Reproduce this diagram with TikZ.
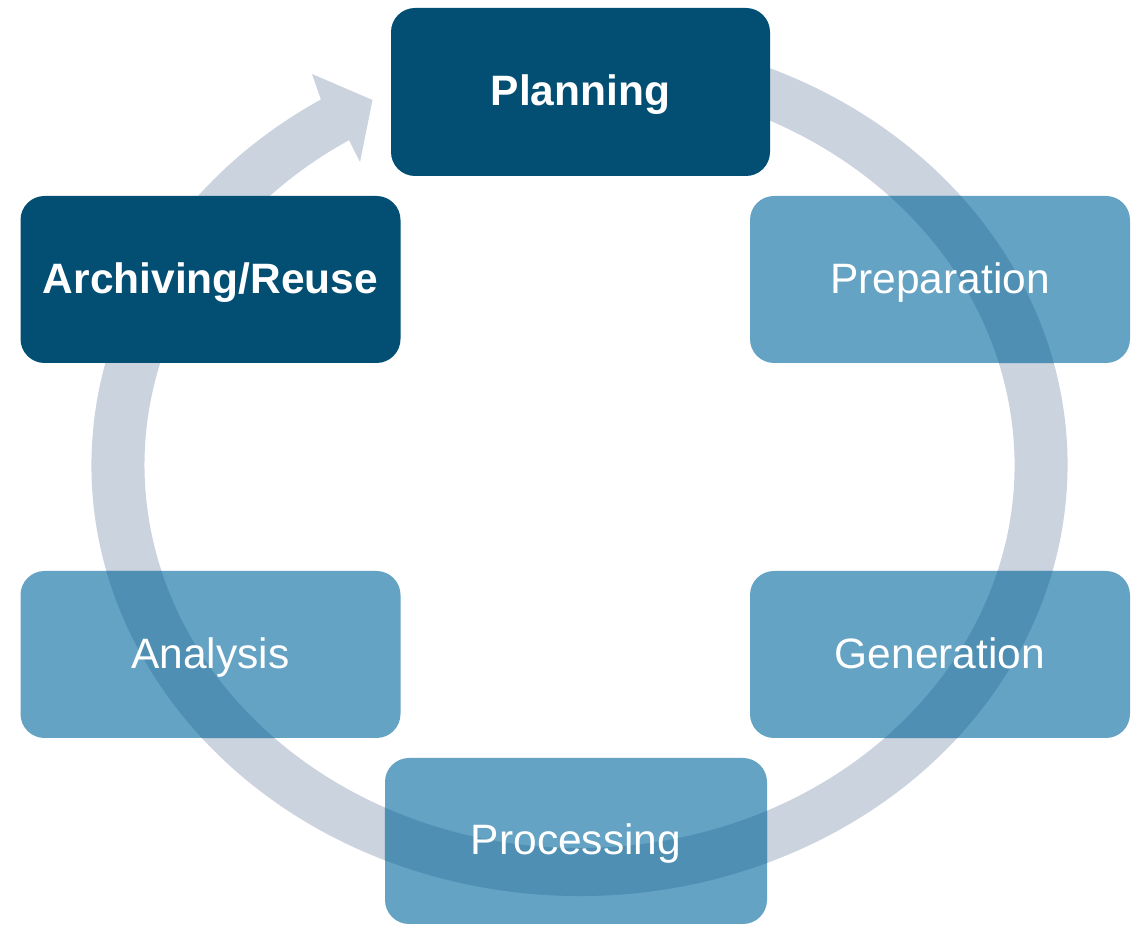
\documentclass[tikz,border=0pt]{standalone}
\usepackage{fontspec}
\setmainfont{Liberation Sans}
\usetikzlibrary{calc}
\definecolor{ringcol}{RGB}{203,211,223}
\definecolor{darkbox}{RGB}{2,79,115}
\definecolor{lightbox}{RGB}{101,163,196}
\definecolor{bandcol}{RGB}{79,143,180}
\newcommand\ringpath{($(C)+(122:488 and 431)$) arc[start angle=122,end angle=460,x radius=488,y radius=431] -- ($(C)+(460:435 and 383)$) arc[start angle=460,end angle=122,x radius=435,y radius=383] -- (ai) -- (at) -- (ao) -- cycle}
\newcommand\bandin[1]{\begin{scope}\clip[rounded corners=24] (#1.south west) rectangle (#1.north east);\fill[bandcol] \ringpath;\end{scope}}
\tikzset{
  stepbox/.style={rectangle, rounded corners=24, inner sep=0pt, minimum width=380, minimum height=167},
  darkstep/.style={stepbox, fill=darkbox},
  lightstep/.style={stepbox, fill=lightbox},
  boxtext/.style={text=white, anchor=base, inner sep=0pt, font=\fontsize{42.5}{50}\selectfont},
  boldtext/.style={boxtext, font=\fontsize{42.5}{50}\selectfont\bfseries},
}
\begin{document}
\begin{tikzpicture}[x=1pt,y=1pt]
\useasboundingbox (0,0) rectangle (1138,925);
\coordinate (C) at (579.5,460);
\coordinate (ao) at (312,851);
\coordinate (ai) at (360,763);
\coordinate (at) at (372.5,825);
% ring arrow
\fill[ringcol] \ringpath;
% boxes
\node[darkstep, minimum width=379, minimum height=168] (plan) at (580.5,833) {};
\node[darkstep] (arch) at (210.5,645.5) {};
\node[lightstep] (prep) at (940,645.5) {};
\node[lightstep] (gen) at (940,270.5) {};
\node[lightstep, minimum width=382, minimum height=166] (proc) at (576,84) {};
\node[lightstep] (anal) at (210.5,270.5) {};
% ring seen through the light boxes
\bandin{prep}
\bandin{gen}
\bandin{proc}
\bandin{anal}
% texts
\node[boldtext] (tplan) at ([yshift=-14]plan.center) {Planning};
\node[boldtext] (tarch) at ([yshift=-14]arch.center) {Archiving/Reuse};
\node[boxtext] (tprep) at ([yshift=-14]prep.center) {Preparation};
\node[boxtext] (tgen) at ([yshift=-14]gen.center) {Generation};
\node[boxtext] (tproc) at ([yshift=-14]proc.center) {Processing};
\node[boxtext] (tanal) at ([yshift=-14]anal.center) {Analysis};
\end{tikzpicture}
\end{document}
